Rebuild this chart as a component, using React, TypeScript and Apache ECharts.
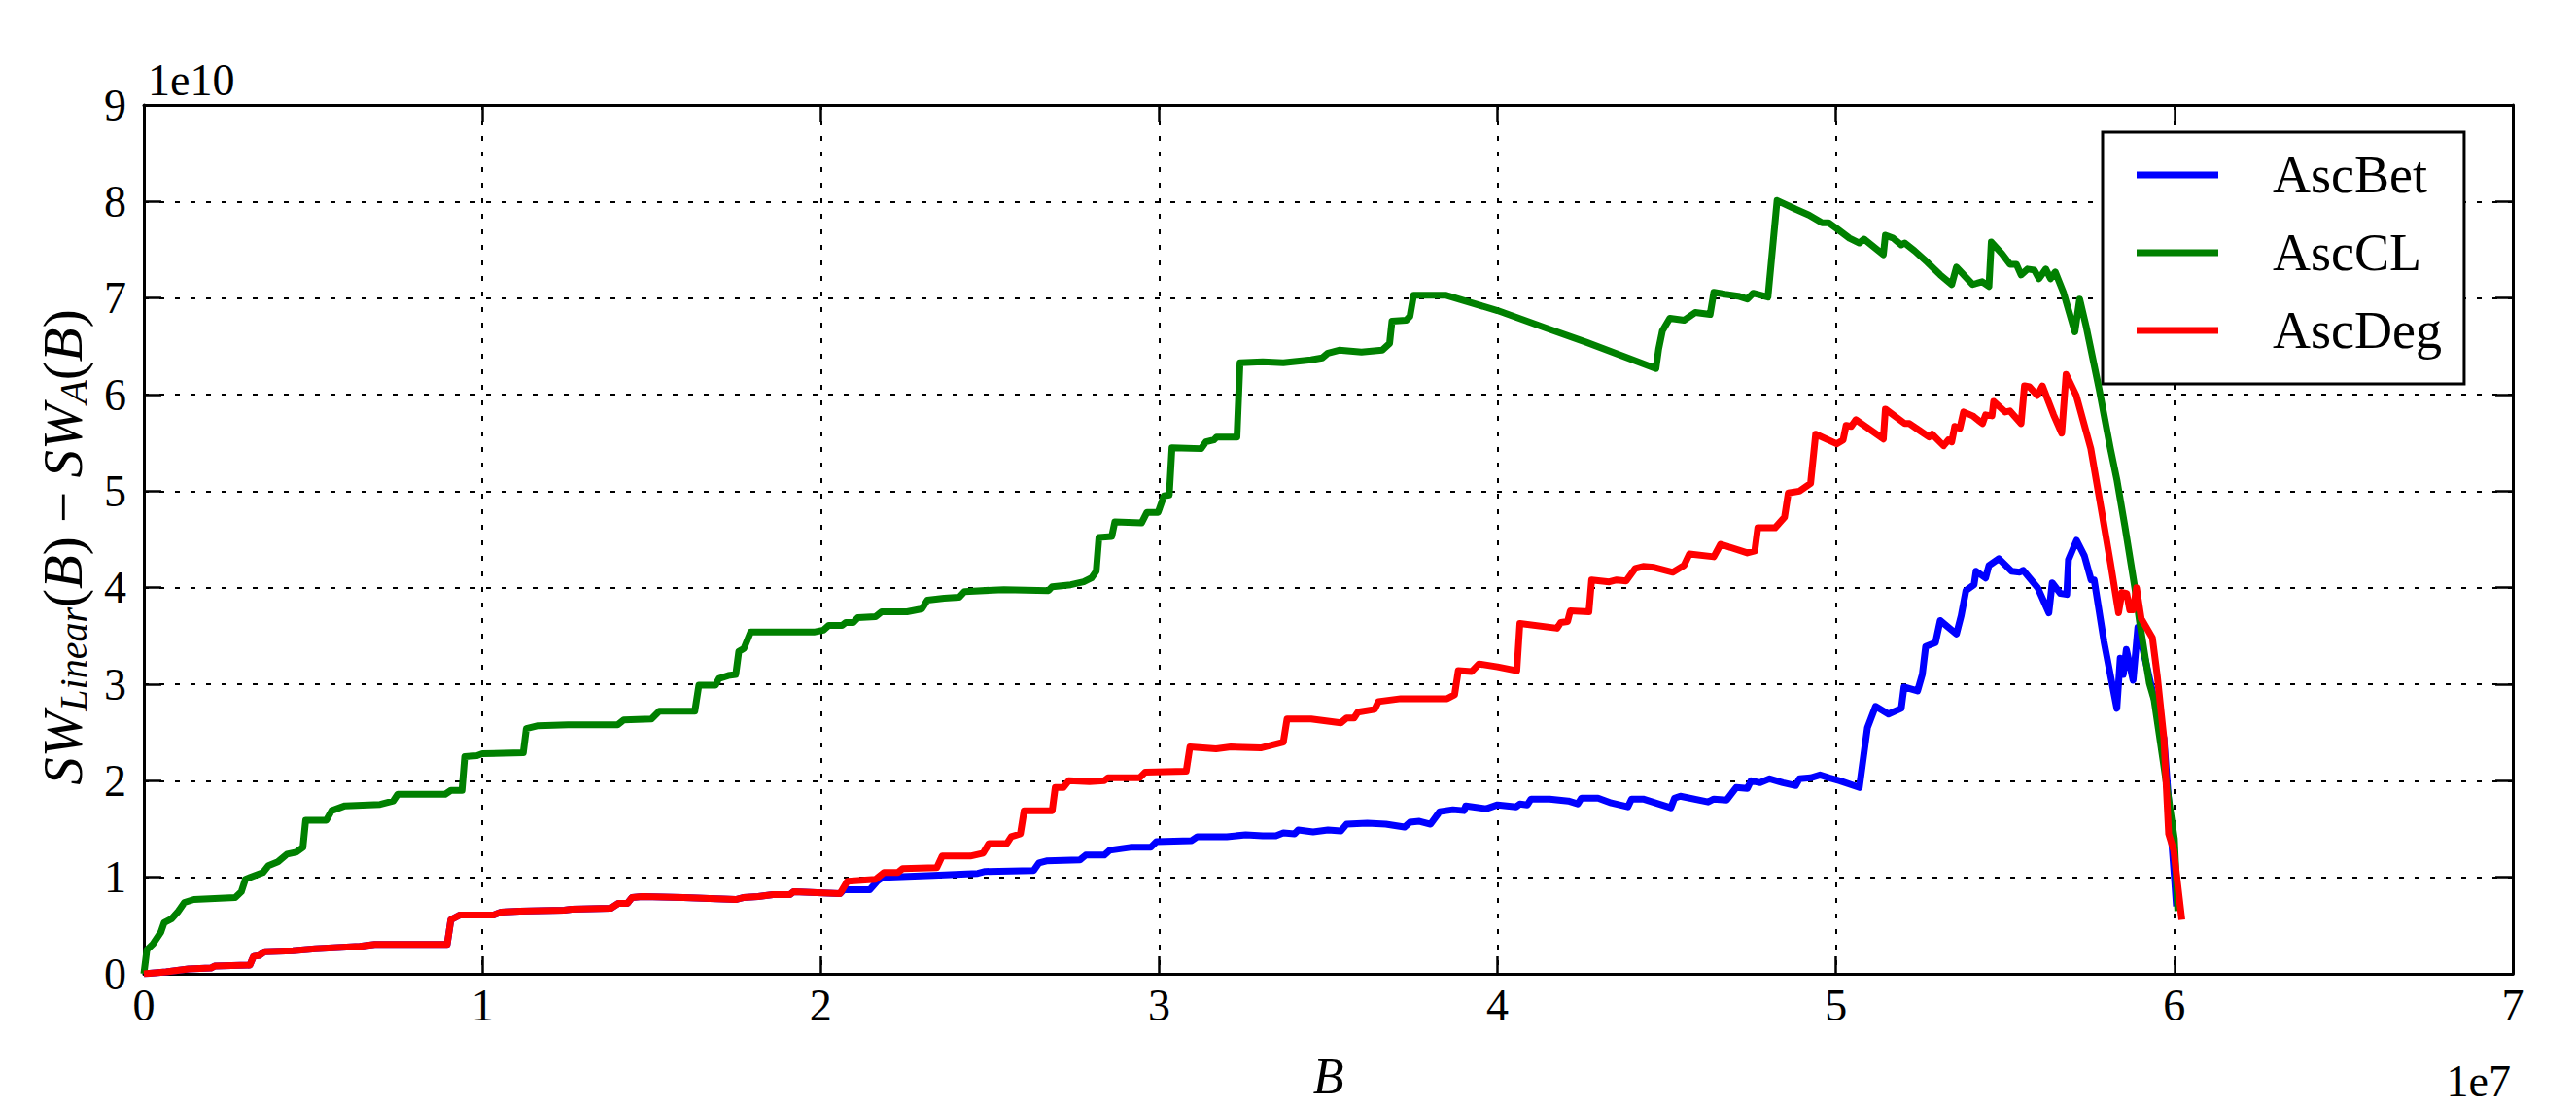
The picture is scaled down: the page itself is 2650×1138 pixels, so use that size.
import React, { useEffect, useRef } from "react";
import * as echarts from "echarts";

// B in units of 1e7, SW difference in units of 1e10
const xTicks = [0, 1, 2, 3, 4, 5, 6, 7];
const yTicks = [0, 1, 2, 3, 4, 5, 6, 7, 8, 9];
const seriesNames = ["AscBet", "AscCL", "AscDeg"];
const seriesColors = ["#0000ff", "#008000", "#ff0000"];

const ascBet: number[][] = [
  [0, 0], [0.066, 0.02], [0.132, 0.05], [0.198, 0.06], [0.209, 0.08], [0.313, 0.09], [0.324, 0.18],
  [0.341, 0.19], [0.357, 0.23], [0.44, 0.24], [0.506, 0.26], [0.638, 0.285], [0.682, 0.305], [0.896, 0.305],
  [0.907, 0.56], [0.934, 0.61], [1.033, 0.61], [1.055, 0.64], [1.11, 0.65], [1.242, 0.66], [1.264, 0.67],
  [1.38, 0.68], [1.402, 0.73], [1.429, 0.73], [1.442, 0.79], [1.473, 0.8], [1.594, 0.79], [1.749, 0.77],
  [1.771, 0.79], [1.815, 0.8], [1.859, 0.82], [1.909, 0.82], [1.92, 0.85], [2.057, 0.83],
  [2.068, 0.87], [2.145, 0.87], [2.167, 0.96], [2.184, 1.0], [2.332, 1.02], [2.464, 1.04], [2.486, 1.06],
  [2.629, 1.07], [2.645, 1.15], [2.667, 1.17], [2.766, 1.18], [2.783, 1.23], [2.838, 1.23], [2.854, 1.28],
  [2.915, 1.31], [2.975, 1.31], [2.992, 1.37], [3.096, 1.38], [3.113, 1.42], [3.2, 1.42], [3.256, 1.44],
  [3.306, 1.43], [3.345, 1.43], [3.367, 1.46], [3.4, 1.45], [3.411, 1.49], [3.455, 1.47], [3.499, 1.49],
  [3.537, 1.48], [3.554, 1.55], [3.615, 1.56], [3.67, 1.55], [3.725, 1.52], [3.741, 1.57], [3.769, 1.58],
  [3.802, 1.55], [3.829, 1.68], [3.868, 1.7], [3.901, 1.69], [3.906, 1.74], [3.967, 1.71], [4.0, 1.75],
  [4.055, 1.73], [4.066, 1.76], [4.088, 1.75], [4.099, 1.81], [4.154, 1.81], [4.209, 1.79], [4.237, 1.76],
  [4.248, 1.82], [4.297, 1.82], [4.336, 1.77], [4.385, 1.73], [4.396, 1.81], [4.43, 1.81], [4.512, 1.72],
  [4.523, 1.82], [4.54, 1.84], [4.622, 1.78], [4.639, 1.81], [4.677, 1.8], [4.705, 1.93], [4.738, 1.92],
  [4.749, 2.0], [4.776, 1.98], [4.804, 2.02], [4.843, 1.98], [4.881, 1.95], [4.892, 2.02], [4.925, 2.03],
  [4.953, 2.06], [4.98, 2.03], [5.011, 2.0], [5.069, 1.93], [5.093, 2.55], [5.117, 2.77], [5.155, 2.69],
  [5.193, 2.75], [5.201, 2.97], [5.241, 2.93], [5.255, 3.1], [5.265, 3.39], [5.294, 3.43], [5.308, 3.66],
  [5.356, 3.52], [5.37, 3.71], [5.384, 3.97], [5.408, 4.03], [5.414, 4.17], [5.442, 4.1], [5.452, 4.23],
  [5.481, 4.3], [5.519, 4.17], [5.543, 4.16], [5.553, 4.18], [5.596, 4.0], [5.629, 3.74], [5.639, 4.05],
  [5.663, 3.94], [5.682, 3.93], [5.687, 4.29], [5.711, 4.49], [5.734, 4.33], [5.754, 4.08], [5.763, 4.08],
  [5.792, 3.44], [5.83, 2.75], [5.84, 3.27], [5.849, 3.1], [5.858, 3.36], [5.878, 3.04], [5.892, 3.59],
  [5.95, 2.7], [5.969, 2.44], [6.0, 1.0], [6.006, 0.7],
];

const ascCL: number[][] = [
  [0, 0], [0.009, 0.25], [0.027, 0.31], [0.05, 0.43], [0.06, 0.53], [0.082, 0.57], [0.1, 0.64], [0.12, 0.74],
  [0.148, 0.77], [0.27, 0.79], [0.288, 0.85], [0.3, 0.98], [0.352, 1.05], [0.368, 1.12], [0.396, 1.16],
  [0.423, 1.24], [0.45, 1.26], [0.47, 1.31], [0.478, 1.59], [0.539, 1.59], [0.555, 1.69], [0.594, 1.74],
  [0.698, 1.755], [0.737, 1.79], [0.75, 1.86], [0.89, 1.86], [0.907, 1.9], [0.94, 1.9], [0.948, 2.25],
  [0.984, 2.26], [1.0, 2.28], [1.121, 2.29], [1.13, 2.54], [1.165, 2.57], [1.253, 2.58], [1.4, 2.58],
  [1.418, 2.63], [1.5, 2.64], [1.523, 2.72], [1.628, 2.72], [1.64, 2.99], [1.689, 2.99], [1.7, 3.06],
  [1.727, 3.09], [1.749, 3.1], [1.758, 3.34], [1.773, 3.37], [1.793, 3.54], [1.98, 3.54], [2.008, 3.56],
  [2.024, 3.61], [2.063, 3.61], [2.074, 3.64], [2.096, 3.64], [2.11, 3.69], [2.162, 3.7], [2.18, 3.75],
  [2.255, 3.75], [2.299, 3.78], [2.315, 3.87], [2.365, 3.89], [2.409, 3.9], [2.425, 3.96], [2.541, 3.98],
  [2.673, 3.97], [2.684, 4.01], [2.739, 4.03], [2.777, 4.06], [2.8, 4.1], [2.814, 4.17], [2.822, 4.52],
  [2.86, 4.53], [2.869, 4.68], [2.948, 4.67], [2.964, 4.78], [2.997, 4.78], [3.014, 4.95], [3.03, 4.96],
  [3.038, 5.45], [3.124, 5.44], [3.138, 5.51], [3.162, 5.53], [3.17, 5.56], [3.23, 5.56], [3.239, 6.33],
  [3.306, 6.34], [3.367, 6.33], [3.394, 6.34], [3.449, 6.36], [3.482, 6.38], [3.499, 6.43], [3.532, 6.46],
  [3.598, 6.44], [3.659, 6.46], [3.681, 6.53], [3.688, 6.76], [3.73, 6.77], [3.741, 6.81], [3.752, 7.03],
  [3.846, 7.03], [4.0, 6.87], [4.143, 6.69], [4.264, 6.54], [4.468, 6.27], [4.476, 6.47], [4.487, 6.66],
  [4.509, 6.79], [4.551, 6.77], [4.584, 6.85], [4.628, 6.83], [4.639, 7.06], [4.672, 7.04], [4.711, 7.02],
  [4.738, 6.99], [4.755, 7.05], [4.799, 7.01], [4.826, 8.01], [4.881, 7.92], [4.92, 7.86], [4.959, 7.78],
  [4.978, 7.78], [5.002, 7.72], [5.04, 7.62], [5.069, 7.57], [5.083, 7.61], [5.14, 7.45], [5.146, 7.65],
  [5.169, 7.62], [5.193, 7.55], [5.203, 7.57], [5.232, 7.49], [5.27, 7.37], [5.308, 7.24], [5.342, 7.14],
  [5.356, 7.32], [5.404, 7.14], [5.432, 7.17], [5.452, 7.12], [5.459, 7.58], [5.49, 7.46], [5.514, 7.35],
  [5.533, 7.35], [5.547, 7.24], [5.566, 7.3], [5.586, 7.29], [5.6, 7.2], [5.62, 7.3], [5.634, 7.2],
  [5.648, 7.27], [5.672, 7.06], [5.706, 6.65], [5.72, 6.99], [5.739, 6.71], [5.778, 6.05], [5.811, 5.44],
  [5.83, 5.12], [5.854, 4.63], [5.883, 4.0], [5.897, 3.65], [5.926, 3.01], [5.94, 2.84], [5.969, 2.15],
  [6.0, 1.4], [6.01, 0.65],
];

const ascDeg: number[][] = [
  [0, 0], [0.066, 0.02], [0.132, 0.05], [0.198, 0.06], [0.209, 0.08], [0.313, 0.09], [0.324, 0.18],
  [0.341, 0.19], [0.357, 0.23], [0.44, 0.24], [0.506, 0.26], [0.638, 0.285], [0.682, 0.305], [0.896, 0.305],
  [0.907, 0.56], [0.934, 0.61], [1.033, 0.61], [1.055, 0.64], [1.11, 0.65], [1.242, 0.66], [1.264, 0.67],
  [1.38, 0.68], [1.402, 0.73], [1.429, 0.73], [1.442, 0.79], [1.473, 0.8], [1.594, 0.79], [1.749, 0.77],
  [1.771, 0.79], [1.815, 0.8], [1.859, 0.82], [1.909, 0.82], [1.92, 0.85], [2.057, 0.83], [2.079, 0.96],
  [2.162, 0.98], [2.187, 1.05], [2.228, 1.05], [2.242, 1.09], [2.343, 1.1], [2.359, 1.22], [2.442, 1.22],
  [2.48, 1.25], [2.497, 1.35], [2.55, 1.35], [2.563, 1.42], [2.59, 1.45], [2.601, 1.69], [2.684, 1.69],
  [2.693, 1.93], [2.717, 1.93], [2.733, 2.0], [2.794, 1.99], [2.838, 2.0], [2.849, 2.03], [2.942, 2.03],
  [2.959, 2.09], [3.08, 2.1], [3.091, 2.35], [3.168, 2.33], [3.212, 2.35], [3.3, 2.34], [3.367, 2.4],
  [3.378, 2.64], [3.449, 2.64], [3.537, 2.6], [3.554, 2.65], [3.576, 2.65], [3.587, 2.71], [3.637, 2.74],
  [3.648, 2.82], [3.714, 2.85], [3.851, 2.85], [3.873, 2.89], [3.884, 3.14], [3.923, 3.13], [3.945, 3.21],
  [4.0, 3.18], [4.057, 3.14], [4.066, 3.63], [4.176, 3.58], [4.187, 3.64], [4.207, 3.65], [4.215, 3.76],
  [4.27, 3.75], [4.278, 4.08], [4.33, 4.06], [4.352, 4.08], [4.38, 4.07], [4.407, 4.2], [4.43, 4.22],
  [4.463, 4.21], [4.518, 4.16], [4.551, 4.23], [4.567, 4.35], [4.639, 4.32], [4.659, 4.45], [4.738, 4.36],
  [4.76, 4.38], [4.769, 4.62], [4.82, 4.62], [4.848, 4.73], [4.859, 4.98], [4.892, 5.0], [4.925, 5.08],
  [4.94, 5.59], [5.002, 5.49], [5.021, 5.53], [5.03, 5.68], [5.045, 5.67], [5.059, 5.74], [5.14, 5.54],
  [5.146, 5.85], [5.203, 5.7], [5.217, 5.7], [5.246, 5.63], [5.275, 5.56], [5.284, 5.59], [5.318, 5.47],
  [5.332, 5.53], [5.342, 5.51], [5.351, 5.67], [5.366, 5.65], [5.377, 5.82], [5.404, 5.78], [5.433, 5.7],
  [5.442, 5.79], [5.461, 5.78], [5.466, 5.93], [5.5, 5.82], [5.514, 5.83], [5.547, 5.7], [5.557, 6.09],
  [5.572, 6.08], [5.595, 5.99], [5.61, 6.09], [5.643, 5.79], [5.667, 5.6], [5.68, 6.21], [5.71, 5.99],
  [5.753, 5.44], [5.787, 4.75], [5.811, 4.26], [5.835, 3.74], [5.845, 3.95], [5.859, 3.94], [5.868, 3.77],
  [5.878, 3.77], [5.888, 4.0], [5.902, 3.68], [5.935, 3.48], [5.95, 3.07], [5.969, 2.44], [5.983, 1.45],
  [5.998, 1.28], [6.022, 0.56],
];

const seriesData = [ascBet, ascCL, ascDeg];
const xMultiplier = "1e7";
const yMultiplier = "1e10";

const FONT = "'Liberation Serif', 'Times New Roman', 'DejaVu Serif', serif";

export default function App() {
  const ref = useRef<HTMLDivElement>(null);

  useEffect(() => {
    if (!ref.current) return;
    const chart = echarts.init(ref.current, undefined, { renderer: "svg" });

    const axisLine = { show: true, onZero: false, lineStyle: { color: "#000", width: 3 } };
    const axisTick = { show: true, inside: true, length: 18, lineStyle: { color: "#000", width: 2.5 } };
    const split = { show: true, lineStyle: { color: "#000", width: 2, type: [5, 11] } };

    const mainStyle = { fontFamily: FONT, fontSize: 57, lineHeight: 62, fill: "#000", color: "#000" };
    const italic = { ...mainStyle, fontStyle: "italic" };
    const sub = {
      fontFamily: FONT, fontSize: 40, lineHeight: 32, fontStyle: "italic",
      verticalAlign: "bottom", fill: "#000", color: "#000",
    };

    const option: any = {
      animation: false,
      backgroundColor: "#ffffff",
      textStyle: { fontFamily: FONT },
      grid: { left: 148, right: 65, top: 108, bottom: 116, containLabel: false },
      xAxis: [
        {
          type: "value", min: xTicks[0], max: xTicks[xTicks.length - 1], interval: 1, position: "bottom",
          axisLine, axisTick,
          axisLabel: { color: "#000", fontSize: 46, margin: 9, fontFamily: FONT },
          splitLine: split,
          name: "B", nameLocation: "middle", nameGap: 79,
          nameTextStyle: { fontFamily: FONT, fontSize: 52, fontStyle: "italic", color: "#000" },
        },
        {
          type: "value", min: xTicks[0], max: xTicks[xTicks.length - 1], interval: 1, position: "top",
          axisLine, axisTick, axisLabel: { show: false }, splitLine: { show: false },
        },
      ],
      yAxis: [
        {
          type: "value", min: yTicks[0], max: yTicks[yTicks.length - 1], interval: 1, position: "left",
          axisLine, axisTick,
          axisLabel: { color: "#000", fontSize: 46, margin: 18, fontFamily: FONT },
          splitLine: split,
        },
        {
          type: "value", min: yTicks[0], max: yTicks[yTicks.length - 1], interval: 1, position: "right",
          axisLine, axisTick, axisLabel: { show: false }, splitLine: { show: false },
        },
      ],
      legend: {
        orient: "vertical",
        left: 2163,
        top: 136,
        padding: [17, 23, 28, 35],
        itemGap: 26,
        itemWidth: 84,
        itemHeight: 7,
        icon: "rect",
        borderColor: "#000",
        borderWidth: 3,
        borderRadius: 0,
        backgroundColor: "#ffffff",
        textStyle: { fontFamily: FONT, fontSize: 54, lineHeight: 54, color: "#000", padding: [0, 0, 0, 51] },
        data: seriesNames,
      },
      graphic: [
        {
          type: "text", x: 152, y: 82,
          style: { text: yMultiplier, fontFamily: FONT, fontSize: 46, fill: "#000", align: "left", verticalAlign: "middle" },
        },
        {
          type: "text", x: 2583, y: 1112,
          style: { text: xMultiplier, fontFamily: FONT, fontSize: 46, fill: "#000", align: "right", verticalAlign: "middle" },
        },
        {
          type: "text", x: 64, y: 563, rotation: Math.PI / 2,
          style: {
            text: "{i|SW}{s|Linear}{r|(}{i|B}{r|) − }{i|SW}{s|A}{r|(}{i|B}{r|)}",
            align: "center", verticalAlign: "middle",
            rich: { i: italic, r: mainStyle, s: sub },
          },
        },
      ],
      series: seriesNames.map((name, k) => ({
        name,
        type: "line",
        xAxisIndex: 0,
        yAxisIndex: 0,
        data: seriesData[k],
        showSymbol: false,
        symbol: "none",
        color: seriesColors[k],
        lineStyle: { color: seriesColors[k], width: 7, join: "round", cap: "butt" },
        z: 3 + k,
      })),
    };

    chart.setOption(option);
    return () => chart.dispose();
  }, []);

  return (
    <div
      ref={ref}
      style={{ position: "fixed", left: 0, top: 0, width: 2650, height: 1138, background: "#fff" }}
    />
  );
}
